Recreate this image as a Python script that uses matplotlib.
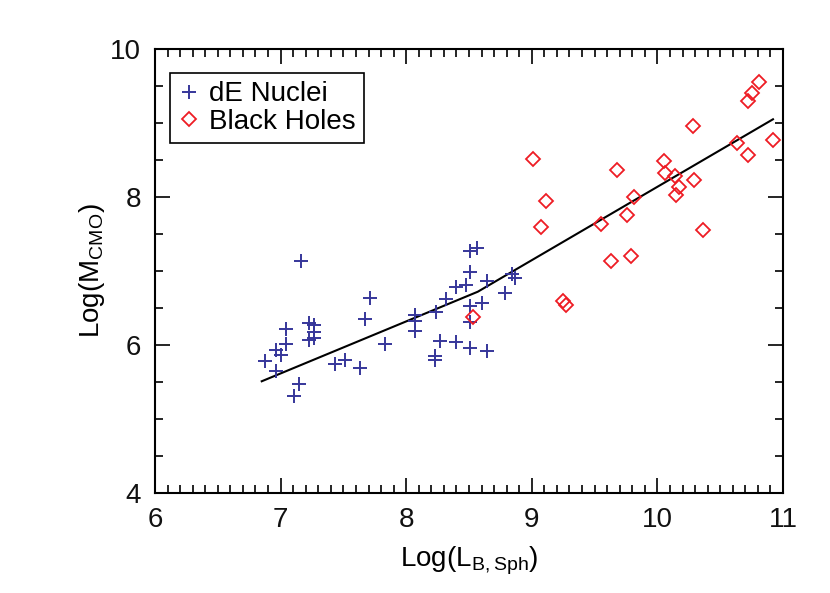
import matplotlib
matplotlib.use("Agg")
import matplotlib.pyplot as plt
from matplotlib.ticker import MultipleLocator

plt.rcParams['font.family'] = ['Liberation Sans', 'DejaVu Sans']
plt.rcParams['mathtext.fontset'] = 'custom'
plt.rcParams['mathtext.rm'] = 'Liberation Sans'

# dE nuclei (blue crosses)
de_x = [6.88, 6.96, 7.00, 6.96, 7.04, 7.04, 7.16, 7.15, 7.11, 7.23, 7.27, 7.27,
        7.27, 7.23, 7.43, 7.51, 7.63, 7.67, 7.71, 7.83, 8.07, 8.07, 8.07, 8.23,
        8.23, 8.24, 8.27, 8.32, 8.40, 8.40, 8.48, 8.51, 8.56, 8.51, 8.51, 8.51,
        8.51, 8.60, 8.64, 8.64, 8.79, 8.84, 8.87]
de_y = [5.78, 5.93, 5.87, 5.65, 6.01, 6.22, 7.13, 5.47, 5.31, 6.30, 6.27, 6.17,
        6.10, 6.07, 5.74, 5.80, 5.69, 6.35, 6.63, 6.02, 6.40, 6.33, 6.19, 5.85,
        5.80, 6.44, 6.05, 6.62, 6.04, 6.79, 6.81, 7.27, 7.31, 6.98, 6.53, 6.31,
        5.96, 6.57, 6.87, 5.92, 6.70, 6.96, 6.91]

# black holes (red diamonds)
bh_x = [8.53, 9.01, 9.07, 9.11, 9.25, 9.27, 9.55, 9.63, 9.68, 9.76, 9.79, 9.81,
        10.05, 10.06, 10.14, 10.17, 10.15, 10.28, 10.29, 10.36, 10.63, 10.72,
        10.72, 10.75, 10.81, 10.92]
bh_y = [6.38, 8.51, 7.59, 7.95, 6.60, 6.54, 7.64, 7.14, 8.37, 7.75, 7.20, 8.00,
        8.49, 8.32, 8.28, 8.13, 8.03, 8.96, 8.23, 7.56, 8.73, 8.57, 9.30, 9.41,
        9.55, 8.77]

# fitted relation
fit_x = [6.85, 8.57, 10.92]
fit_y = [5.51, 6.72, 9.05]

fig = plt.figure(figsize=(8.3, 5.93), dpi=100)
ax = fig.add_axes([0.1867, 0.1686, 0.7567, 0.7488])

ax.plot(fit_x, fit_y, color='black', lw=1.5, zorder=2)
ax.plot(de_x, de_y, ls='none', marker='+', ms=10, mew=1.4, color='#36369a',
        label='dE Nuclei', zorder=3)
ax.plot(bh_x, bh_y, ls='none', marker='D', ms=7, mew=1.3, mfc='none',
        mec='#ee1c24', label='Black Holes', zorder=3)

ax.set_xlim(6, 11)
ax.set_ylim(4, 10)
ax.xaxis.set_major_locator(MultipleLocator(1))
ax.xaxis.set_minor_locator(MultipleLocator(0.1))
ax.yaxis.set_major_locator(MultipleLocator(2))
ax.yaxis.set_minor_locator(MultipleLocator(0.5))
ax.tick_params(which='both', direction='in', top=True, right=True, width=1.2,
               labelsize=20, pad=10, labelcolor='#111111')
ax.tick_params(which='major', length=11)
ax.tick_params(which='minor', length=6)
for s in ax.spines.values():
    s.set_linewidth(1.5)

ax.set_xlabel(r'Log(L$_{\mathregular{B,Sph}}$)', fontsize=20, labelpad=8)
ax.set_ylabel(r'Log(M$_{\mathregular{CMO}}$)', fontsize=20, labelpad=2)

leg = ax.legend(loc='upper left', bbox_to_anchor=(0.024, 0.946), borderaxespad=0,
                fontsize=20, fancybox=False, edgecolor='black', framealpha=1,
                handlelength=0.8, handletextpad=0.3, borderpad=0.3,
                labelspacing=0.05)
leg.get_frame().set_linewidth(1.2)

fig.savefig('out.png', dpi=100)
